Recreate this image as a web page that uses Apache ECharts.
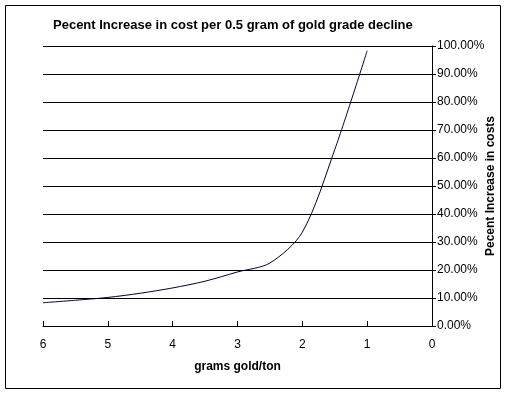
<!DOCTYPE html>
<html>
<head>
<meta charset="utf-8">
<script src="https://cdn.jsdelivr.net/npm/echarts@6/dist/echarts.min.js"></script>
<style>
html,body{margin:0;padding:0;background:#fff;}
#chart{width:508px;height:395px;}
</style>
</head>
<body>
<div id="chart"></div>
<script>
var titleText = 'Pecent Increase in cost per 0.5 gram of gold grade decline';
var xAxisTitle = 'grams gold/ton';
var yAxisTitle = 'Pecent Increase in costs';
var grams = [6, 5.5, 5, 4.5, 4, 3.5, 3, 2.5, 2, 1.5, 1];
var pctIncrease = [8.3, 9.2, 10.2, 11.7, 13.6, 16.0, 19.3, 22.5, 33.5, 63.0, 98.3];

var chart = echarts.init(document.getElementById('chart'));
var font = '"Liberation Sans", Arial, sans-serif';
chart.setOption({
  animation: false,
  backgroundColor: '#fff',
  textStyle: {fontFamily: font},
  title: {
    text: titleText,
    left: 48, top: 14,
    textStyle: {fontFamily: font, fontSize: 13, fontWeight: 'bold', color: '#000'}
  },
  graphic: [{
    type: 'rect', silent: true,
    shape: {x: 5.5, y: 5.5, width: 495, height: 383},
    style: {fill: 'none', stroke: '#000', lineWidth: 1}
  }],
  grid: {left: 43, right: 76, top: 46, bottom: 69, containLabel: false, outerBoundsMode: 'none'},
  xAxis: {
    type: 'value', inverse: true, min: 0, max: 6, interval: 1,
    name: xAxisTitle, nameLocation: 'middle', nameGap: 35, nameMoveOverlap: false,
    nameTextStyle: {fontFamily: font, fontSize: 12, fontWeight: 'bold', color: '#000'},
    axisLine: {lineStyle: {color: '#000', width: 1}},
    axisTick: {inside: true, length: 5, lineStyle: {color: '#000'}},
    axisLabel: {margin: 13, fontSize: 12, color: '#000', fontFamily: font},
    splitLine: {show: false}
  },
  yAxis: {
    type: 'value', position: 'right', min: 0, max: 100, interval: 10,
    name: yAxisTitle, nameLocation: 'middle', nameGap: 53, nameRotate: 90, nameMoveOverlap: false,
    nameTextStyle: {fontFamily: font, fontSize: 12, fontWeight: 'bold', color: '#000'},
    axisLine: {show: true, lineStyle: {color: '#000', width: 1}},
    axisTick: {show: true, length: 4, lineStyle: {color: '#000'}},
    axisLabel: {margin: 5, fontSize: 12, color: '#000', fontFamily: font,
      formatter: function (v) { return v.toFixed(2) + '%'; }},
    splitLine: {show: true, lineStyle: {color: '#000', width: 1}}
  },
  series: [{
    type: 'line',
    data: grams.map(function (g, i) { return [g, pctIncrease[i]]; }),
    smooth: 0.3,
    showSymbol: false,
    lineStyle: {color: '#000033', width: 1}
  }]
});
</script>
</body>
</html>
